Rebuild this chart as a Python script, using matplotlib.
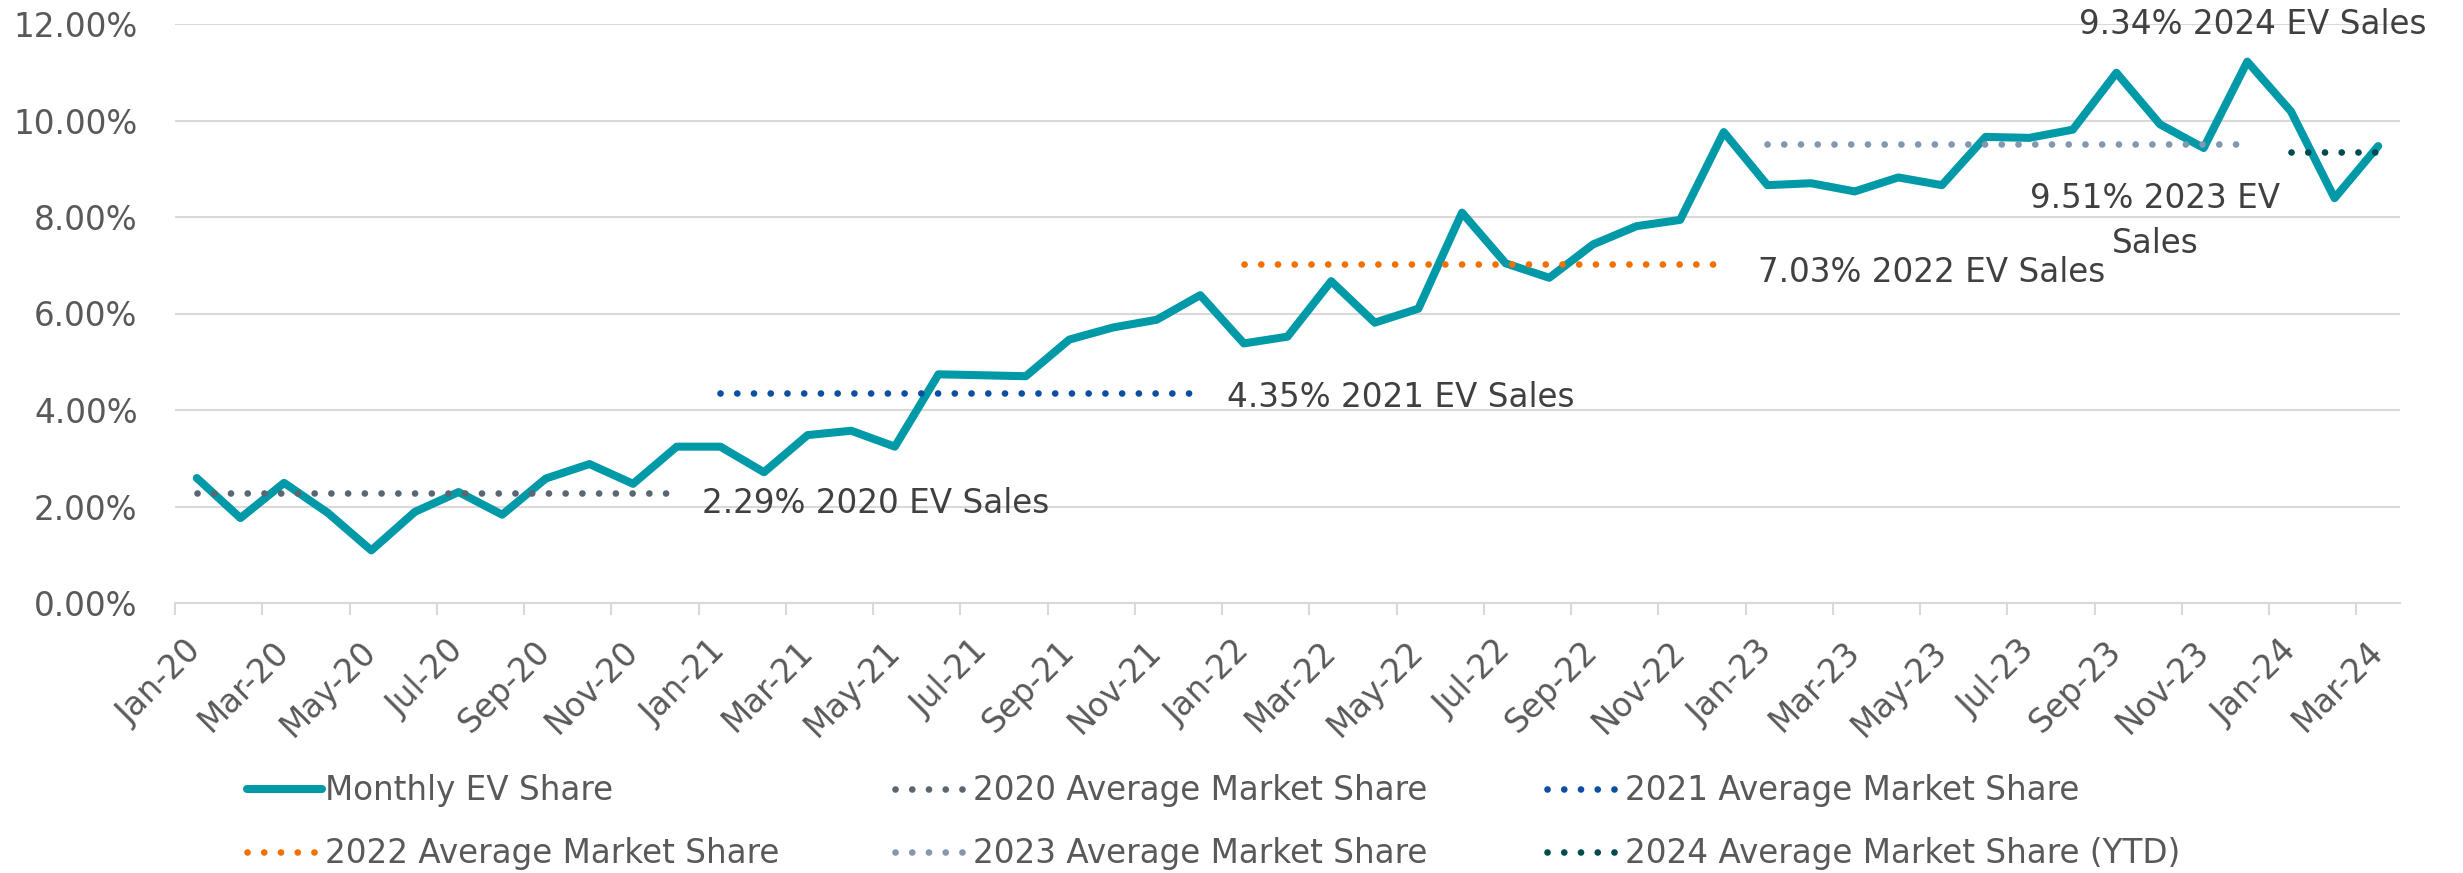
import matplotlib
matplotlib.use("Agg")
import matplotlib.pyplot as plt
from matplotlib.ticker import PercentFormatter, FixedLocator
import pandas as pd

plt.rcParams['font.family'] = ['DejaVu Sans']

# ---------------- data ----------------
months = list(pd.date_range('2020-01-01', periods=51, freq='MS').strftime('%b-%y'))

monthly_ev_share = [
    2.59, 1.76, 2.49, 1.87, 1.09, 1.89, 2.30, 1.83, 2.58, 2.88, 2.47, 3.24,   # 2020
    3.24, 2.71, 3.48, 3.57, 3.24, 4.74, 4.72, 4.70, 5.46, 5.71, 5.87, 6.38,   # 2021
    5.38, 5.52, 6.67, 5.81, 6.10, 8.09, 7.04, 6.74, 7.43, 7.81, 7.94, 9.76,   # 2022
    8.66, 8.70, 8.53, 8.82, 8.66, 9.66, 9.64, 9.81, 10.99, 9.92, 9.43, 11.22, # 2023
    10.19, 8.39, 9.47,                                                        # 2024
]

avg_years = ['2020', '2021', '2022', '2023', '2024']
avg_values = [2.29, 4.35, 7.03, 9.51, 9.34]
avg_start = ['Jan-20', 'Jan-21', 'Jan-22', 'Jan-23', 'Jan-24']
avg_end = ['Dec-20', 'Dec-21', 'Dec-22', 'Dec-23', 'Mar-24']
avg_labels = ['2020 Average Market Share', '2021 Average Market Share',
              '2022 Average Market Share', '2023 Average Market Share',
              '2024 Average Market Share (YTD)']
avg_texts = ['2.29% 2020 EV Sales', '4.35% 2021 EV Sales', '7.03% 2022 EV Sales',
             '9.51% 2023 EV\nSales', '9.34% 2024 EV Sales']

# ---------------- styles ----------------
W, H = 2463, 873
DPI = 100
teal = '#0099A8'
avg_colors = ['#5B6670', '#0B4EA2', '#F07000', '#8497B0', '#004B50']
grid_col = '#D9D9D9'
txt_col = '#595959'
ann_col = '#404040'
FS = 23.5

fig = plt.figure(figsize=(W / DPI, H / DPI), dpi=DPI)
ax = fig.add_axes([175 / W, (H - 603) / H, (2400 - 175) / W, (603 - 24) / H])

x = list(range(len(months)))
idx = {m: i for i, m in enumerate(months)}

line_main, = ax.plot(x, monthly_ev_share, color=teal, lw=5.8, solid_joinstyle='round',
                     solid_capstyle='round', zorder=3, label='Monthly EV Share')

avg_handles = []
for yr, val, s, e, c, lab in zip(avg_years, avg_values, avg_start, avg_end, avg_colors, avg_labels):
    xs = list(range(idx[s], idx[e] + 1))
    h, = ax.plot(xs, [val] * len(xs), color=c, lw=4.8, linestyle=(0, (0.01, 2.5)),
                 dash_capstyle='round', zorder=4, label=lab)
    avg_handles.append(h)

# annotations (x position, baseline of last line, alignment)
ann_pos = [(11.57, 1.87, 'left'), (23.62, 4.06, 'left'), (35.78, 6.65, 'left'),
           (44.88, 7.25, 'center'), (47.12, 11.79, 'center')]
for (ax_x, ax_y, ha), t in zip(ann_pos, avg_texts):
    ax.text(ax_x, ax_y, t, ha=ha, va='baseline', fontsize=FS, color=ann_col,
            linespacing=1.48, multialignment='center', clip_on=False, zorder=5)

# axes
ax.set_xlim(-0.5, len(months) - 0.5)
ax.set_ylim(0, 12)
ax.yaxis.set_major_locator(FixedLocator([0, 2, 4, 6, 8, 10, 12]))
ax.yaxis.set_major_formatter(PercentFormatter(xmax=100, decimals=2))
ax.grid(axis='y', color=grid_col, lw=1.5, zorder=0)
ax.set_axisbelow(True)
for sp in ['top', 'right', 'left']:
    ax.spines[sp].set_visible(False)
ax.spines['bottom'].set_color(grid_col)
ax.spines['bottom'].set_linewidth(1.5)

ax.set_xticks(x[::2])
ax.set_xticklabels(months[::2], rotation=45, ha='right', va='center',
                   rotation_mode='anchor', fontsize=FS, color=txt_col)
ax.set_xticks([i - 0.5 for i in x[::2]], minor=True)
ax.tick_params(axis='x', which='major', length=0, pad=31)
ax.tick_params(axis='x', which='minor', length=8.6, width=1.5, color=grid_col, direction='out')
ax.tick_params(axis='y', length=0, pad=27, labelsize=FS, labelcolor=txt_col)

# legend: three columns, two rows (row-major order as in the reference)
all_handles = [line_main] + avg_handles
cols = [(247, [all_handles[0], all_handles[3]]),
        (895, [all_handles[1], all_handles[4]]),
        (1547, [all_handles[2], all_handles[5]])]
for xpx, hs in cols:
    fig.legend(handles=hs, labels=[h.get_label() for h in hs], loc='upper left',
               bbox_to_anchor=(xpx / W, (H - 774) / H), frameon=False,
               fontsize=FS, labelcolor=txt_col, borderpad=0, borderaxespad=0,
               handlelength=2.3, handletextpad=0.1, labelspacing=0.93)

fig.savefig('out.png', dpi=DPI)
